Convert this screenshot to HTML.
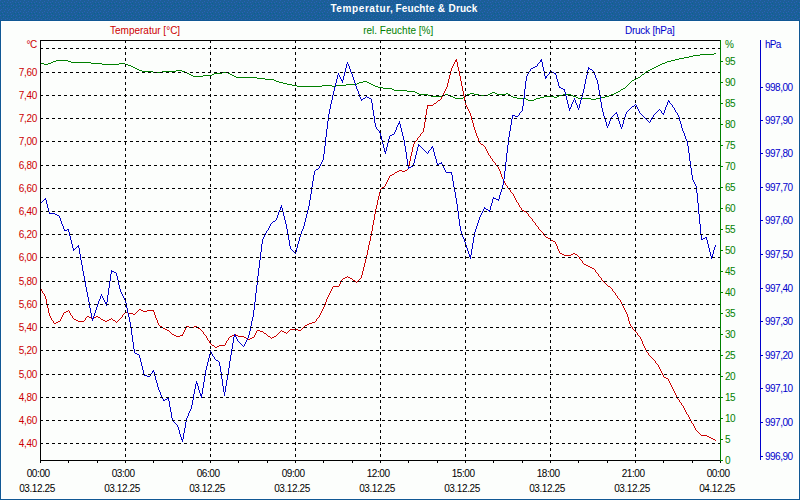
<!DOCTYPE html>
<html><head><meta charset="utf-8"><title>Temperatur, Feuchte &amp; Druck</title>
<style>
html,body{margin:0;padding:0;}
body{width:800px;height:500px;overflow:hidden;background:#105894;font-family:"Liberation Sans",sans-serif;position:relative;}
#hdr{position:absolute;left:0;top:0;width:800px;height:20px;background:#1c5f97;}
#title{z-index:2;position:absolute;left:0;top:0;width:800px;height:21px;color:#fff;font-weight:bold;font-size:10px;line-height:17px;white-space:nowrap;}
#title span{position:absolute;top:0;}
#panelw{position:absolute;left:1px;top:21px;width:798px;height:478px;background:#fff;}
#panel{position:absolute;left:2px;top:22px;width:796px;height:476px;background:#fcfefc;}
svg{position:absolute;left:0;top:0;}
.t{position:absolute;font-size:10px;line-height:13px;white-space:nowrap;}
.r{color:#cc0000;} .g{color:#008000;} .b{color:#0000cc;} .k{color:#000;}
.yl{width:37px;text-align:right;left:0;letter-spacing:-0.3px;}
.rl{letter-spacing:-0.5px;}
.xl{width:80px;text-align:center;letter-spacing:-0.4px;}
</style></head><body>
<div id="hdr"></div>
<div id="title"><span style="left:330.4px;letter-spacing:0.6px">Temperatur,</span><span style="left:395.6px;letter-spacing:0.1px">Feuchte</span><span style="left:437.8px">&amp;</span><span style="left:448.6px;letter-spacing:0.1px">Druck</span></div>
<div id="panelw"></div><div id="panel"></div>

<svg width="800" height="500" viewBox="0 0 800 500" shape-rendering="crispEdges" fill="none">
<defs><pattern id="dz" width="16" height="10" patternUnits="userSpaceOnUse"><path d="M0 0h1v1h-1zM8 0h1v1h-1zM4 1h1v1h-1zM12 1h1v1h-1zM2 2h1v1h-1zM7 2h1v1h-1zM10 2h1v1h-1zM15 2h1v1h-1zM3 4h1v1h-1zM11 4h1v1h-1zM0 5h1v1h-1zM5 5h1v1h-1zM8 5h1v1h-1zM13 5h1v1h-1zM3 7h1v1h-1zM11 7h1v1h-1zM7 8h1v1h-1zM15 8h1v1h-1zM1 9h1v1h-1zM5 9h1v1h-1zM9 9h1v1h-1zM13 9h1v1h-1z" fill="#2862b8"/><path d="M1 3h1v1h-1zM4 3h1v1h-1zM12 5h1v1h-1zM2 6h1v1h-1zM6 6h1v1h-1zM9 6h1v1h-1zM11 8h1v1h-1zM14 3h1v1h-1zM14 7h1v1h-1z" fill="#066494"/></pattern></defs><rect x="0" y="0" width="800" height="20" fill="url(#dz)"/>
<path d="M714 53h2v1h-2zM700 54h14v1h-14zM693 55h7v1h-7zM689 56h4v1h-4zM684 57h5v1h-5zM679 58h5v1h-5zM675 59h4v1h-4zM56 60h12v1h-12zM671 60h4v1h-4zM53 61h3v1h-3zM68 61h3v1h-3zM667 61h4v1h-4zM51 62h2v1h-2zM71 62h20v1h-20zM665 62h2v1h-2zM41 63h3v1h-3zM48 63h3v1h-3zM91 63h11v1h-11zM119 63h6v1h-6zM662 63h3v1h-3zM44 64h4v1h-4zM102 64h17v1h-17zM125 64h3v1h-3zM660 64h2v1h-2zM128 65h3v1h-3zM658 65h2v1h-2zM131 66h2v1h-2zM656 66h2v1h-2zM133 67h2v1h-2zM654 67h2v1h-2zM135 68h2v1h-2zM652 68h2v1h-2zM137 69h2v1h-2zM650 69h2v1h-2zM139 70h3v1h-3zM176 70h6v1h-6zM648 70h2v1h-2zM142 71h11v1h-11zM162 71h14v1h-14zM182 71h3v1h-3zM646 71h2v1h-2zM153 72h9v1h-9zM185 72h2v1h-2zM222 72h6v1h-6zM645 72h1v1h-1zM187 73h2v1h-2zM214 73h8v1h-8zM228 73h2v1h-2zM644 73h1v1h-1zM189 74h2v1h-2zM212 74h2v1h-2zM230 74h2v1h-2zM642 74h2v1h-2zM191 75h2v1h-2zM203 75h9v1h-9zM232 75h2v1h-2zM641 75h1v1h-1zM193 76h10v1h-10zM234 76h2v1h-2zM640 76h1v1h-1zM236 77h21v1h-21zM638 77h2v1h-2zM257 78h8v1h-8zM636 78h2v1h-2zM265 79h9v1h-9zM634 79h2v1h-2zM274 80h2v1h-2zM632 80h2v1h-2zM276 81h3v1h-3zM363 81h4v1h-4zM631 81h1v1h-1zM279 82h4v1h-4zM359 82h4v1h-4zM367 82h2v1h-2zM630 82h1v1h-1zM283 83h4v1h-4zM357 83h2v1h-2zM369 83h2v1h-2zM629 83h1v1h-1zM287 84h5v1h-5zM346 84h11v1h-11zM371 84h2v1h-2zM628 84h1v1h-1zM292 85h5v1h-5zM322 85h10v1h-10zM335 85h11v1h-11zM373 85h2v1h-2zM627 85h1v1h-1zM297 86h25v1h-25zM332 86h3v1h-3zM375 86h3v1h-3zM626 86h1v1h-1zM378 87h5v1h-5zM625 87h1v1h-1zM383 88h9v1h-9zM623 88h2v1h-2zM392 89h2v1h-2zM621 89h2v1h-2zM394 90h13v1h-13zM620 90h1v1h-1zM407 91h8v1h-8zM618 91h2v1h-2zM415 92h2v1h-2zM492 92h3v1h-3zM616 92h2v1h-2zM417 93h2v1h-2zM470 93h4v1h-4zM490 93h2v1h-2zM495 93h2v1h-2zM506 93h2v1h-2zM614 93h2v1h-2zM419 94h9v1h-9zM445 94h3v1h-3zM467 94h3v1h-3zM474 94h5v1h-5zM488 94h2v1h-2zM497 94h9v1h-9zM508 94h2v1h-2zM563 94h8v1h-8zM611 94h3v1h-3zM428 95h3v1h-3zM443 95h2v1h-2zM448 95h2v1h-2zM466 95h1v1h-1zM479 95h9v1h-9zM510 95h1v1h-1zM559 95h4v1h-4zM571 95h2v1h-2zM609 95h2v1h-2zM431 96h12v1h-12zM450 96h3v1h-3zM465 96h1v1h-1zM511 96h2v1h-2zM544 96h10v1h-10zM557 96h2v1h-2zM573 96h3v1h-3zM605 96h4v1h-4zM453 97h2v1h-2zM463 97h2v1h-2zM513 97h4v1h-4zM540 97h4v1h-4zM554 97h3v1h-3zM576 97h2v1h-2zM601 97h4v1h-4zM455 98h8v1h-8zM517 98h9v1h-9zM536 98h4v1h-4zM578 98h13v1h-13zM596 98h5v1h-5zM526 99h2v1h-2zM534 99h2v1h-2zM591 99h5v1h-5zM528 100h6v1h-6z" fill="#008000"/>
<path d="M41 289h1v2h-1zM42 291h1v2h-1zM44 294h1v2h-1zM45 296h1v3h-1zM46 299h1v5h-1zM47 304h1v4h-1zM48 308h1v5h-1zM49 313h1v3h-1zM50 316h1v2h-1zM51 318h1v2h-1zM53 321h1v2h-1zM60 319h1v2h-1zM61 317h1v2h-1zM62 315h1v2h-1zM63 313h1v2h-1zM69 311h1v2h-1zM70 313h1v2h-1zM72 316h1v2h-1zM85 318h1v2h-1zM122 315h1v2h-1zM153 310h1v2h-1zM154 312h1v3h-1zM155 315h1v3h-1zM156 318h1v2h-1zM157 320h1v3h-1zM158 323h1v2h-1zM182 334h1v2h-1zM183 332h1v2h-1zM184 330h1v2h-1zM185 328h1v2h-1zM186 326h1v2h-1zM203 332h1v2h-1zM206 336h1v2h-1zM207 338h1v2h-1zM209 341h1v2h-1zM225 343h1v2h-1zM226 341h1v2h-1zM228 338h1v2h-1zM254 335h1v2h-1zM255 333h1v2h-1zM256 331h1v2h-1zM316 319h1v2h-1zM319 315h1v2h-1zM320 313h1v2h-1zM321 311h1v2h-1zM322 309h1v2h-1zM323 307h1v2h-1zM324 305h1v2h-1zM325 302h1v3h-1zM326 299h1v3h-1zM327 297h1v2h-1zM328 295h1v2h-1zM329 293h1v2h-1zM330 291h1v2h-1zM331 289h1v2h-1zM332 287h1v2h-1zM339 284h1v2h-1zM340 282h1v2h-1zM341 280h1v2h-1zM361 275h1v3h-1zM362 271h1v4h-1zM363 267h1v4h-1zM364 263h1v4h-1zM365 259h1v4h-1zM366 255h1v4h-1zM367 250h1v5h-1zM368 245h1v5h-1zM369 241h1v4h-1zM370 236h1v5h-1zM371 231h1v5h-1zM372 225h1v6h-1zM373 220h1v5h-1zM374 214h1v6h-1zM375 209h1v5h-1zM376 205h1v4h-1zM377 200h1v5h-1zM378 196h1v4h-1zM379 192h1v4h-1zM380 189h1v3h-1zM385 184h1v2h-1zM386 182h1v2h-1zM387 180h1v2h-1zM388 178h1v2h-1zM389 176h1v2h-1zM408 166h1v3h-1zM409 161h1v5h-1zM410 156h1v5h-1zM411 152h1v4h-1zM412 147h1v5h-1zM413 144h1v3h-1zM414 142h1v2h-1zM417 138h1v2h-1zM420 134h1v2h-1zM423 128h1v4h-1zM424 122h1v6h-1zM425 115h1v7h-1zM426 109h1v6h-1zM427 105h1v4h-1zM441 97h1v2h-1zM442 95h1v2h-1zM443 93h1v2h-1zM444 91h1v2h-1zM445 89h1v2h-1zM446 87h1v2h-1zM447 83h1v4h-1zM448 79h1v4h-1zM449 75h1v4h-1zM450 71h1v4h-1zM451 68h1v3h-1zM452 66h1v2h-1zM453 64h1v2h-1zM454 62h1v2h-1zM455 60h1v2h-1zM456 59h1v3h-1zM457 62h1v5h-1zM458 67h1v4h-1zM459 71h1v5h-1zM460 76h1v5h-1zM461 81h1v5h-1zM462 86h1v5h-1zM463 91h1v5h-1zM464 96h1v5h-1zM465 101h1v4h-1zM466 105h1v2h-1zM467 107h1v2h-1zM468 109h1v2h-1zM469 111h1v2h-1zM470 113h1v3h-1zM471 116h1v4h-1zM472 120h1v3h-1zM473 123h1v4h-1zM474 127h1v3h-1zM475 130h1v3h-1zM476 133h1v3h-1zM477 136h1v2h-1zM478 138h1v3h-1zM479 141h1v2h-1zM485 147h1v2h-1zM486 149h1v2h-1zM487 151h1v2h-1zM488 153h1v2h-1zM490 156h1v2h-1zM492 159h1v2h-1zM495 163h1v2h-1zM498 167h1v2h-1zM499 169h1v2h-1zM500 171h1v3h-1zM501 174h1v3h-1zM502 177h1v2h-1zM503 179h1v2h-1zM504 181h1v2h-1zM505 183h1v2h-1zM507 186h1v2h-1zM510 190h1v2h-1zM513 194h1v2h-1zM514 196h1v2h-1zM515 198h1v2h-1zM516 200h1v2h-1zM518 203h1v2h-1zM519 205h1v2h-1zM521 208h1v2h-1zM528 214h1v2h-1zM532 219h1v2h-1zM535 223h1v2h-1zM538 227h1v2h-1zM543 233h1v2h-1zM555 242h1v2h-1zM556 244h1v2h-1zM557 246h1v3h-1zM558 249h1v2h-1zM559 251h1v2h-1zM579 257h1v2h-1zM582 261h1v2h-1zM595 270h1v2h-1zM598 274h1v2h-1zM601 278h1v2h-1zM612 289h1v2h-1zM615 293h1v2h-1zM617 296h1v2h-1zM620 300h1v2h-1zM621 302h1v2h-1zM622 304h1v2h-1zM623 306h1v2h-1zM624 308h1v2h-1zM625 310h1v2h-1zM626 312h1v2h-1zM627 314h1v3h-1zM628 317h1v4h-1zM629 321h1v3h-1zM630 324h1v2h-1zM632 327h1v2h-1zM637 333h1v2h-1zM640 337h1v2h-1zM641 339h1v2h-1zM642 341h1v3h-1zM643 344h1v2h-1zM644 346h1v2h-1zM645 348h1v2h-1zM646 350h1v2h-1zM648 353h1v2h-1zM655 361h1v2h-1zM658 365h1v2h-1zM659 367h1v2h-1zM660 369h1v2h-1zM661 371h1v2h-1zM662 373h1v2h-1zM663 375h1v2h-1zM668 379h1v2h-1zM669 381h1v2h-1zM670 383h1v2h-1zM671 385h1v2h-1zM672 387h1v2h-1zM673 389h1v2h-1zM674 391h1v2h-1zM675 393h1v2h-1zM676 395h1v2h-1zM677 397h1v2h-1zM679 400h1v2h-1zM681 403h1v2h-1zM683 406h1v2h-1zM684 408h1v2h-1zM685 410h1v2h-1zM686 412h1v2h-1zM688 415h1v2h-1zM689 417h1v2h-1zM690 419h1v2h-1zM691 421h1v2h-1zM693 424h1v2h-1zM694 426h1v2h-1zM695 428h1v2h-1zM440 99h1v1h-1zM438 100h2v1h-2zM437 101h1v1h-1zM436 102h1v1h-1zM434 103h2v1h-2zM433 104h1v1h-1zM428 105h5v1h-5zM422 132h1v1h-1zM421 133h1v1h-1zM419 136h1v1h-1zM418 137h1v1h-1zM416 140h1v1h-1zM415 141h1v1h-1zM480 143h1v1h-1zM481 144h2v1h-2zM483 145h1v1h-1zM484 146h1v1h-1zM489 155h1v1h-1zM491 158h1v1h-1zM493 161h1v1h-1zM494 162h1v1h-1zM496 165h1v1h-1zM497 166h1v1h-1zM407 169h1v1h-1zM399 170h3v1h-3zM405 170h2v1h-2zM397 171h2v1h-2zM402 171h3v1h-3zM395 172h2v1h-2zM394 173h1v1h-1zM392 174h2v1h-2zM390 175h2v1h-2zM506 185h1v1h-1zM384 186h1v1h-1zM382 187h2v1h-2zM381 188h1v1h-1zM508 188h1v1h-1zM509 189h1v1h-1zM511 192h1v1h-1zM512 193h1v1h-1zM517 202h1v1h-1zM520 207h1v1h-1zM522 210h2v1h-2zM524 211h2v1h-2zM526 212h1v1h-1zM527 213h1v1h-1zM529 216h1v1h-1zM530 217h1v1h-1zM531 218h1v1h-1zM533 221h1v1h-1zM534 222h1v1h-1zM536 225h1v1h-1zM537 226h1v1h-1zM539 229h1v1h-1zM540 230h1v1h-1zM541 231h1v1h-1zM542 232h1v1h-1zM544 235h1v1h-1zM545 236h1v1h-1zM546 237h2v1h-2zM548 238h2v1h-2zM550 239h1v1h-1zM551 240h2v1h-2zM553 241h2v1h-2zM560 253h2v1h-2zM573 253h2v1h-2zM562 254h2v1h-2zM571 254h2v1h-2zM575 254h2v1h-2zM564 255h7v1h-7zM577 255h1v1h-1zM578 256h1v1h-1zM580 259h1v1h-1zM581 260h1v1h-1zM583 263h1v1h-1zM584 264h2v1h-2zM586 265h2v1h-2zM588 266h2v1h-2zM590 267h2v1h-2zM592 268h2v1h-2zM594 269h1v1h-1zM596 272h1v1h-1zM597 273h1v1h-1zM347 276h1v1h-1zM599 276h1v1h-1zM345 277h2v1h-2zM348 277h2v1h-2zM600 277h1v1h-1zM343 278h2v1h-2zM350 278h2v1h-2zM360 278h1v1h-1zM342 279h1v1h-1zM352 279h1v1h-1zM359 279h1v1h-1zM353 280h2v1h-2zM358 280h1v1h-1zM602 280h1v1h-1zM355 281h1v1h-1zM357 281h1v1h-1zM603 281h1v1h-1zM356 282h1v1h-1zM604 282h1v1h-1zM605 283h1v1h-1zM606 284h1v1h-1zM607 285h1v1h-1zM333 286h6v1h-6zM608 286h2v1h-2zM610 287h1v1h-1zM40 288h1v1h-1zM611 288h1v1h-1zM613 291h1v1h-1zM614 292h1v1h-1zM43 293h1v1h-1zM616 295h1v1h-1zM618 298h1v1h-1zM619 299h1v1h-1zM139 309h2v1h-2zM68 310h1v1h-1zM138 310h1v1h-1zM141 310h2v1h-2zM147 310h6v1h-6zM66 311h2v1h-2zM137 311h1v1h-1zM143 311h4v1h-4zM64 312h2v1h-2zM125 312h3v1h-3zM136 312h1v1h-1zM124 313h1v1h-1zM128 313h5v1h-5zM135 313h1v1h-1zM123 314h1v1h-1zM133 314h2v1h-2zM71 315h1v1h-1zM87 316h2v1h-2zM96 316h2v1h-2zM86 317h1v1h-1zM89 317h2v1h-2zM94 317h2v1h-2zM98 317h2v1h-2zM121 317h1v1h-1zM318 317h1v1h-1zM73 318h1v1h-1zM91 318h3v1h-3zM100 318h1v1h-1zM111 318h1v1h-1zM120 318h1v1h-1zM317 318h1v1h-1zM74 319h2v1h-2zM101 319h2v1h-2zM109 319h2v1h-2zM112 319h1v1h-1zM119 319h1v1h-1zM52 320h1v1h-1zM76 320h2v1h-2zM84 320h1v1h-1zM103 320h2v1h-2zM107 320h2v1h-2zM113 320h2v1h-2zM118 320h1v1h-1zM58 321h2v1h-2zM78 321h6v1h-6zM105 321h2v1h-2zM115 321h1v1h-1zM117 321h1v1h-1zM315 321h1v1h-1zM56 322h2v1h-2zM116 322h1v1h-1zM312 322h3v1h-3zM54 323h2v1h-2zM309 323h3v1h-3zM307 324h2v1h-2zM159 325h1v1h-1zM305 325h2v1h-2zM160 326h2v1h-2zM187 326h2v1h-2zM194 326h3v1h-3zM304 326h1v1h-1zM631 326h1v1h-1zM162 327h1v1h-1zM189 327h5v1h-5zM197 327h1v1h-1zM303 327h1v1h-1zM163 328h2v1h-2zM198 328h2v1h-2zM302 328h1v1h-1zM165 329h2v1h-2zM200 329h1v1h-1zM290 329h8v1h-8zM301 329h1v1h-1zM633 329h1v1h-1zM167 330h2v1h-2zM201 330h1v1h-1zM257 330h3v1h-3zM281 330h1v1h-1zM289 330h1v1h-1zM298 330h3v1h-3zM634 330h1v1h-1zM169 331h1v1h-1zM202 331h1v1h-1zM260 331h3v1h-3zM280 331h1v1h-1zM282 331h2v1h-2zM288 331h1v1h-1zM635 331h1v1h-1zM170 332h1v1h-1zM263 332h1v1h-1zM279 332h1v1h-1zM284 332h2v1h-2zM287 332h1v1h-1zM636 332h1v1h-1zM171 333h1v1h-1zM264 333h2v1h-2zM278 333h1v1h-1zM286 333h1v1h-1zM172 334h2v1h-2zM204 334h1v1h-1zM234 334h2v1h-2zM266 334h1v1h-1zM277 334h1v1h-1zM174 335h2v1h-2zM180 335h2v1h-2zM205 335h1v1h-1zM232 335h2v1h-2zM236 335h2v1h-2zM267 335h1v1h-1zM276 335h1v1h-1zM638 335h1v1h-1zM176 336h4v1h-4zM230 336h2v1h-2zM238 336h6v1h-6zM268 336h2v1h-2zM274 336h2v1h-2zM639 336h1v1h-1zM229 337h1v1h-1zM244 337h2v1h-2zM252 337h2v1h-2zM270 337h1v1h-1zM272 337h2v1h-2zM246 338h2v1h-2zM250 338h2v1h-2zM271 338h1v1h-1zM248 339h2v1h-2zM208 340h1v1h-1zM227 340h1v1h-1zM210 343h1v1h-1zM211 344h1v1h-1zM212 345h2v1h-2zM219 345h6v1h-6zM214 346h1v1h-1zM217 346h2v1h-2zM215 347h2v1h-2zM647 352h1v1h-1zM649 355h1v1h-1zM650 356h1v1h-1zM651 357h1v1h-1zM652 358h1v1h-1zM653 359h1v1h-1zM654 360h1v1h-1zM656 363h1v1h-1zM657 364h1v1h-1zM664 377h2v1h-2zM666 378h2v1h-2zM678 399h1v1h-1zM680 402h1v1h-1zM682 405h1v1h-1zM687 414h1v1h-1zM692 423h1v1h-1zM696 430h1v1h-1zM697 431h1v1h-1zM698 432h1v1h-1zM699 433h1v1h-1zM700 434h1v1h-1zM701 435h6v1h-6zM707 436h2v1h-2zM709 437h2v1h-2zM711 438h2v1h-2zM713 439h2v1h-2zM715 440h1v1h-1z" fill="#cc0000"/>
<path d="M45 198h1v2h-1zM46 200h1v4h-1zM47 204h1v4h-1zM48 208h1v4h-1zM49 212h1v2h-1zM59 216h1v2h-1zM60 218h1v3h-1zM61 221h1v3h-1zM62 224h1v2h-1zM63 226h1v3h-1zM64 229h1v2h-1zM68 229h1v3h-1zM69 232h1v4h-1zM70 236h1v4h-1zM71 240h1v4h-1zM72 244h1v4h-1zM73 248h1v3h-1zM78 245h1v3h-1zM79 248h1v6h-1zM80 254h1v6h-1zM81 260h1v5h-1zM82 265h1v6h-1zM83 271h1v5h-1zM84 276h1v5h-1zM85 281h1v6h-1zM86 287h1v5h-1zM87 292h1v5h-1zM88 297h1v5h-1zM89 302h1v6h-1zM90 308h1v5h-1zM91 313h1v5h-1zM92 318h1v3h-1zM93 316h1v3h-1zM94 313h1v3h-1zM95 310h1v3h-1zM96 307h1v3h-1zM97 304h1v3h-1zM98 301h1v3h-1zM99 299h1v2h-1zM100 296h1v3h-1zM101 294h1v2h-1zM102 296h1v2h-1zM103 298h1v2h-1zM104 300h1v2h-1zM105 302h1v2h-1zM106 302h1v4h-1zM107 295h1v7h-1zM108 288h1v7h-1zM109 281h1v7h-1zM110 274h1v7h-1zM111 270h1v4h-1zM116 273h1v3h-1zM117 276h1v4h-1zM118 280h1v5h-1zM119 285h1v4h-1zM120 289h1v3h-1zM121 292h1v2h-1zM122 294h1v2h-1zM123 296h1v2h-1zM124 298h1v2h-1zM125 300h1v3h-1zM126 303h1v5h-1zM127 308h1v5h-1zM128 313h1v4h-1zM129 317h1v5h-1zM130 322h1v6h-1zM131 328h1v7h-1zM132 335h1v7h-1zM133 342h1v7h-1zM134 349h1v4h-1zM139 355h1v3h-1zM140 358h1v4h-1zM141 362h1v4h-1zM142 366h1v4h-1zM143 370h1v4h-1zM144 374h1v2h-1zM150 374h1v2h-1zM152 371h1v2h-1zM153 370h1v2h-1zM154 372h1v4h-1zM155 376h1v4h-1zM156 380h1v3h-1zM157 383h1v4h-1zM158 387h1v3h-1zM159 390h1v2h-1zM160 392h1v3h-1zM161 395h1v2h-1zM162 397h1v2h-1zM163 399h1v2h-1zM168 398h1v3h-1zM169 401h1v6h-1zM170 407h1v5h-1zM171 412h1v6h-1zM172 418h1v3h-1zM177 425h1v2h-1zM178 427h1v3h-1zM179 430h1v4h-1zM180 434h1v3h-1zM181 437h1v3h-1zM182 439h1v3h-1zM183 433h1v6h-1zM184 428h1v5h-1zM185 422h1v6h-1zM186 418h1v4h-1zM187 416h1v2h-1zM188 413h1v3h-1zM189 411h1v2h-1zM190 409h1v2h-1zM191 405h1v4h-1zM192 400h1v5h-1zM193 394h1v6h-1zM194 389h1v5h-1zM195 384h1v5h-1zM196 381h1v3h-1zM197 383h1v3h-1zM198 386h1v4h-1zM199 390h1v3h-1zM200 393h1v3h-1zM201 394h1v4h-1zM202 388h1v6h-1zM203 382h1v6h-1zM204 376h1v6h-1zM205 370h1v6h-1zM206 366h1v4h-1zM207 362h1v4h-1zM208 358h1v4h-1zM209 354h1v4h-1zM210 351h1v3h-1zM211 352h1v2h-1zM212 354h1v2h-1zM214 357h1v2h-1zM219 362h1v4h-1zM220 366h1v6h-1zM221 372h1v7h-1zM222 379h1v7h-1zM223 386h1v6h-1zM224 392h1v4h-1zM225 386h1v6h-1zM226 380h1v6h-1zM227 374h1v6h-1zM228 368h1v6h-1zM229 361h1v7h-1zM230 355h1v6h-1zM231 349h1v6h-1zM232 343h1v6h-1zM233 337h1v6h-1zM234 334h1v3h-1zM235 335h1v2h-1zM236 337h1v2h-1zM237 339h1v2h-1zM244 344h1v2h-1zM245 342h1v2h-1zM246 340h1v2h-1zM247 338h1v2h-1zM248 335h1v3h-1zM249 331h1v4h-1zM250 326h1v5h-1zM251 321h1v5h-1zM252 317h1v4h-1zM253 310h1v7h-1zM254 302h1v8h-1zM255 293h1v9h-1zM256 285h1v8h-1zM257 276h1v9h-1zM258 268h1v8h-1zM259 260h1v8h-1zM260 252h1v8h-1zM261 244h1v8h-1zM262 239h1v5h-1zM263 237h1v2h-1zM264 235h1v2h-1zM265 233h1v2h-1zM266 231h1v2h-1zM268 228h1v2h-1zM269 226h1v2h-1zM270 224h1v2h-1zM276 218h1v2h-1zM277 215h1v3h-1zM278 212h1v3h-1zM279 210h1v2h-1zM280 207h1v3h-1zM281 205h1v3h-1zM282 208h1v4h-1zM283 212h1v4h-1zM284 216h1v4h-1zM285 220h1v4h-1zM286 224h1v5h-1zM287 229h1v6h-1zM288 235h1v5h-1zM289 240h1v6h-1zM290 246h1v3h-1zM295 252h1v2h-1zM296 248h1v4h-1zM297 244h1v4h-1zM298 241h1v3h-1zM299 237h1v4h-1zM300 234h1v3h-1zM301 231h1v3h-1zM302 229h1v2h-1zM303 226h1v3h-1zM304 222h1v4h-1zM305 218h1v4h-1zM306 214h1v4h-1zM307 210h1v4h-1zM308 206h1v4h-1zM309 200h1v6h-1zM310 194h1v6h-1zM311 187h1v7h-1zM312 181h1v6h-1zM313 175h1v6h-1zM314 171h1v4h-1zM319 166h1v2h-1zM320 164h1v2h-1zM321 162h1v2h-1zM322 160h1v2h-1zM323 154h1v6h-1zM324 146h1v8h-1zM325 137h1v9h-1zM326 129h1v8h-1zM327 121h1v8h-1zM328 114h1v7h-1zM329 109h1v5h-1zM330 104h1v5h-1zM331 100h1v4h-1zM332 95h1v5h-1zM333 91h1v4h-1zM334 87h1v4h-1zM335 83h1v4h-1zM336 79h1v4h-1zM337 75h1v4h-1zM338 73h1v2h-1zM339 75h1v2h-1zM340 77h1v2h-1zM341 79h1v2h-1zM342 80h1v3h-1zM343 76h1v4h-1zM344 72h1v4h-1zM345 68h1v4h-1zM346 64h1v4h-1zM347 62h1v2h-1zM348 64h1v2h-1zM349 66h1v3h-1zM350 69h1v3h-1zM351 72h1v2h-1zM352 74h1v3h-1zM353 77h1v3h-1zM354 80h1v3h-1zM355 83h1v3h-1zM356 86h1v3h-1zM357 89h1v2h-1zM358 91h1v3h-1zM359 94h1v3h-1zM360 97h1v2h-1zM361 99h1v2h-1zM371 99h1v4h-1zM372 103h1v7h-1zM373 110h1v6h-1zM374 116h1v7h-1zM375 123h1v4h-1zM376 127h1v2h-1zM379 131h1v2h-1zM380 133h1v3h-1zM381 136h1v4h-1zM382 140h1v4h-1zM383 144h1v4h-1zM384 148h1v4h-1zM385 151h1v3h-1zM386 147h1v4h-1zM387 143h1v4h-1zM388 139h1v4h-1zM389 136h1v3h-1zM394 132h1v2h-1zM395 130h1v2h-1zM396 127h1v3h-1zM397 125h1v2h-1zM398 123h1v2h-1zM399 121h1v3h-1zM400 124h1v4h-1zM401 128h1v4h-1zM402 132h1v4h-1zM403 136h1v4h-1zM404 140h1v6h-1zM405 146h1v6h-1zM406 152h1v7h-1zM407 159h1v6h-1zM408 165h1v4h-1zM413 163h1v3h-1zM414 159h1v4h-1zM415 155h1v4h-1zM416 151h1v4h-1zM417 147h1v4h-1zM418 144h1v3h-1zM428 151h1v2h-1zM431 147h1v2h-1zM432 146h1v2h-1zM433 148h1v4h-1zM434 152h1v4h-1zM435 156h1v3h-1zM436 159h1v4h-1zM437 163h1v2h-1zM441 162h1v2h-1zM442 164h1v2h-1zM443 166h1v2h-1zM444 168h1v2h-1zM445 170h1v2h-1zM451 172h1v3h-1zM452 175h1v6h-1zM453 181h1v6h-1zM454 187h1v5h-1zM455 192h1v6h-1zM456 198h1v6h-1zM457 204h1v7h-1zM458 211h1v8h-1zM459 219h1v7h-1zM460 226h1v5h-1zM461 231h1v3h-1zM462 234h1v3h-1zM463 237h1v2h-1zM464 239h1v3h-1zM465 242h1v3h-1zM466 245h1v3h-1zM467 248h1v3h-1zM468 251h1v3h-1zM469 254h1v3h-1zM470 255h1v4h-1zM471 249h1v6h-1zM472 243h1v6h-1zM473 237h1v6h-1zM474 232h1v5h-1zM475 229h1v3h-1zM476 226h1v3h-1zM477 223h1v3h-1zM478 220h1v3h-1zM479 217h1v3h-1zM480 215h1v2h-1zM481 213h1v2h-1zM482 211h1v2h-1zM483 209h1v2h-1zM484 207h1v2h-1zM489 210h1v2h-1zM490 206h1v4h-1zM491 203h1v3h-1zM492 199h1v4h-1zM493 197h1v2h-1zM498 199h1v2h-1zM499 195h1v4h-1zM500 192h1v3h-1zM501 189h1v3h-1zM502 185h1v4h-1zM503 179h1v6h-1zM504 171h1v8h-1zM505 162h1v9h-1zM506 153h1v9h-1zM507 145h1v8h-1zM508 137h1v8h-1zM509 131h1v6h-1zM510 125h1v6h-1zM511 119h1v6h-1zM512 115h1v4h-1zM519 113h1v2h-1zM522 106h1v5h-1zM523 98h1v8h-1zM524 89h1v9h-1zM525 81h1v8h-1zM526 76h1v5h-1zM527 74h1v2h-1zM528 72h1v2h-1zM530 69h1v2h-1zM537 64h1v2h-1zM540 60h1v2h-1zM541 59h1v3h-1zM542 62h1v5h-1zM543 67h1v4h-1zM544 71h1v5h-1zM545 76h1v3h-1zM546 76h1v2h-1zM549 72h1v2h-1zM555 73h1v2h-1zM556 75h1v4h-1zM557 79h1v3h-1zM558 82h1v4h-1zM559 86h1v2h-1zM564 89h1v3h-1zM565 92h1v4h-1zM566 96h1v4h-1zM567 100h1v4h-1zM568 104h1v4h-1zM569 108h1v3h-1zM570 107h1v2h-1zM571 104h1v3h-1zM572 102h1v2h-1zM573 100h1v2h-1zM574 98h1v2h-1zM575 100h1v3h-1zM576 103h1v2h-1zM577 105h1v3h-1zM578 108h1v2h-1zM579 104h1v4h-1zM580 100h1v4h-1zM581 97h1v3h-1zM582 93h1v4h-1zM583 89h1v4h-1zM584 84h1v5h-1zM585 79h1v5h-1zM586 75h1v4h-1zM587 70h1v5h-1zM588 67h1v3h-1zM593 71h1v2h-1zM594 73h1v2h-1zM595 75h1v3h-1zM596 78h1v2h-1zM597 80h1v4h-1zM598 84h1v6h-1zM599 90h1v6h-1zM600 96h1v6h-1zM601 102h1v6h-1zM602 108h1v4h-1zM603 112h1v4h-1zM604 116h1v3h-1zM605 119h1v3h-1zM606 122h1v4h-1zM607 126h1v2h-1zM608 124h1v2h-1zM609 121h1v3h-1zM610 119h1v2h-1zM611 117h1v2h-1zM616 112h1v2h-1zM617 114h1v3h-1zM618 117h1v4h-1zM619 121h1v3h-1zM620 124h1v3h-1zM621 127h1v2h-1zM622 124h1v3h-1zM623 120h1v4h-1zM624 117h1v3h-1zM625 114h1v3h-1zM626 112h1v2h-1zM636 105h1v2h-1zM637 107h1v2h-1zM638 109h1v2h-1zM639 111h1v2h-1zM650 120h1v2h-1zM651 118h1v2h-1zM653 115h1v2h-1zM661 111h1v2h-1zM663 113h1v2h-1zM664 110h1v3h-1zM665 107h1v3h-1zM666 105h1v2h-1zM667 102h1v3h-1zM668 100h1v2h-1zM669 101h1v2h-1zM672 105h1v2h-1zM674 108h1v2h-1zM675 110h1v2h-1zM677 113h1v2h-1zM678 115h1v2h-1zM679 117h1v4h-1zM680 121h1v3h-1zM681 124h1v4h-1zM682 128h1v3h-1zM683 131h1v2h-1zM684 133h1v3h-1zM685 136h1v3h-1zM686 139h1v2h-1zM687 141h1v5h-1zM688 146h1v7h-1zM689 153h1v8h-1zM690 161h1v7h-1zM691 168h1v7h-1zM692 175h1v5h-1zM693 180h1v2h-1zM694 182h1v2h-1zM695 184h1v2h-1zM696 186h1v7h-1zM697 193h1v10h-1zM698 203h1v11h-1zM699 214h1v10h-1zM700 224h1v10h-1zM701 234h1v6h-1zM706 237h1v3h-1zM707 240h1v4h-1zM708 244h1v4h-1zM709 248h1v4h-1zM710 252h1v4h-1zM711 256h1v3h-1zM712 254h1v3h-1zM713 250h1v4h-1zM714 247h1v3h-1zM715 245h1v2h-1zM539 62h1v1h-1zM538 63h1v1h-1zM535 66h2v1h-2zM533 67h2v1h-2zM531 68h2v1h-2zM589 68h1v1h-1zM590 69h2v1h-2zM592 70h1v1h-1zM529 71h1v1h-1zM550 71h2v1h-2zM552 72h2v1h-2zM554 73h1v1h-1zM548 74h1v1h-1zM547 75h1v1h-1zM560 87h1v1h-1zM561 88h2v1h-2zM563 89h1v1h-1zM366 96h1v1h-1zM365 97h1v1h-1zM367 97h2v1h-2zM363 98h2v1h-2zM369 98h2v1h-2zM362 99h1v1h-1zM670 103h1v1h-1zM635 104h1v1h-1zM671 104h1v1h-1zM634 105h1v1h-1zM632 106h2v1h-2zM631 107h1v1h-1zM673 107h1v1h-1zM630 108h1v1h-1zM629 109h1v1h-1zM659 109h1v1h-1zM628 110h1v1h-1zM658 110h1v1h-1zM660 110h1v1h-1zM521 111h1v1h-1zM627 111h1v1h-1zM657 111h1v1h-1zM520 112h1v1h-1zM656 112h1v1h-1zM676 112h1v1h-1zM615 113h1v1h-1zM640 113h1v1h-1zM655 113h1v1h-1zM662 113h1v1h-1zM614 114h1v1h-1zM641 114h1v1h-1zM654 114h1v1h-1zM513 115h2v1h-2zM518 115h1v1h-1zM613 115h1v1h-1zM642 115h1v1h-1zM515 116h3v1h-3zM612 116h1v1h-1zM643 116h1v1h-1zM644 117h1v1h-1zM652 117h1v1h-1zM645 118h1v1h-1zM646 119h1v1h-1zM647 120h1v1h-1zM648 121h1v1h-1zM649 122h1v1h-1zM377 129h1v1h-1zM378 130h1v1h-1zM392 134h2v1h-2zM390 135h2v1h-2zM419 145h1v1h-1zM420 146h1v1h-1zM421 147h1v1h-1zM422 148h1v1h-1zM423 149h1v1h-1zM430 149h1v1h-1zM424 150h1v1h-1zM429 150h1v1h-1zM425 151h1v1h-1zM426 152h1v1h-1zM427 153h1v1h-1zM439 163h2v1h-2zM438 164h1v1h-1zM411 166h2v1h-2zM409 167h2v1h-2zM318 168h1v1h-1zM316 169h2v1h-2zM315 170h1v1h-1zM446 172h5v1h-5zM494 198h2v1h-2zM44 199h1v1h-1zM496 199h2v1h-2zM43 200h1v1h-1zM42 201h1v1h-1zM41 202h1v1h-1zM40 203h1v1h-1zM485 208h1v1h-1zM486 209h2v1h-2zM488 210h1v1h-1zM50 213h5v1h-5zM55 214h2v1h-2zM57 215h2v1h-2zM275 220h1v1h-1zM273 221h2v1h-2zM272 222h1v1h-1zM271 223h1v1h-1zM67 229h1v1h-1zM65 230h2v1h-2zM267 230h1v1h-1zM705 237h1v1h-1zM703 238h2v1h-2zM702 239h1v1h-1zM77 246h1v1h-1zM76 247h1v1h-1zM75 248h1v1h-1zM74 249h1v1h-1zM291 249h1v1h-1zM292 250h1v1h-1zM293 251h1v1h-1zM294 252h1v1h-1zM112 271h2v1h-2zM114 272h2v1h-2zM238 341h1v1h-1zM239 342h1v1h-1zM240 343h1v1h-1zM241 344h1v1h-1zM242 345h1v1h-1zM243 346h1v1h-1zM135 353h2v1h-2zM137 354h2v1h-2zM213 356h1v1h-1zM215 359h1v1h-1zM216 360h2v1h-2zM218 361h1v1h-1zM151 373h1v1h-1zM145 375h2v1h-2zM147 376h3v1h-3zM167 398h1v1h-1zM165 399h2v1h-2zM164 400h1v1h-1zM173 421h1v1h-1zM174 422h1v1h-1zM175 423h1v1h-1zM176 424h1v1h-1z" fill="#0000cc"/>
<line x1="40" y1="48.5" x2="720" y2="48.5" stroke="#000" stroke-dasharray="3 3"/>
<line x1="40" y1="72.5" x2="720" y2="72.5" stroke="#000" stroke-dasharray="3 3"/>
<line x1="40" y1="95.5" x2="720" y2="95.5" stroke="#000" stroke-dasharray="3 3"/>
<line x1="40" y1="118.5" x2="720" y2="118.5" stroke="#000" stroke-dasharray="3 3"/>
<line x1="40" y1="141.5" x2="720" y2="141.5" stroke="#000" stroke-dasharray="3 3"/>
<line x1="40" y1="165.5" x2="720" y2="165.5" stroke="#000" stroke-dasharray="3 3"/>
<line x1="40" y1="188.5" x2="720" y2="188.5" stroke="#000" stroke-dasharray="3 3"/>
<line x1="40" y1="211.5" x2="720" y2="211.5" stroke="#000" stroke-dasharray="3 3"/>
<line x1="40" y1="234.5" x2="720" y2="234.5" stroke="#000" stroke-dasharray="3 3"/>
<line x1="40" y1="257.5" x2="720" y2="257.5" stroke="#000" stroke-dasharray="3 3"/>
<line x1="40" y1="281.5" x2="720" y2="281.5" stroke="#000" stroke-dasharray="3 3"/>
<line x1="40" y1="304.5" x2="720" y2="304.5" stroke="#000" stroke-dasharray="3 3"/>
<line x1="40" y1="327.5" x2="720" y2="327.5" stroke="#000" stroke-dasharray="3 3"/>
<line x1="40" y1="350.5" x2="720" y2="350.5" stroke="#000" stroke-dasharray="3 3"/>
<line x1="40" y1="374.5" x2="720" y2="374.5" stroke="#000" stroke-dasharray="3 3"/>
<line x1="40" y1="397.5" x2="720" y2="397.5" stroke="#000" stroke-dasharray="3 3"/>
<line x1="40" y1="420.5" x2="720" y2="420.5" stroke="#000" stroke-dasharray="3 3"/>
<line x1="40" y1="443.5" x2="720" y2="443.5" stroke="#000" stroke-dasharray="3 3"/>
<line x1="125.5" y1="40" x2="125.5" y2="460" stroke="#000" stroke-dasharray="3 3"/>
<line x1="210.5" y1="40" x2="210.5" y2="460" stroke="#000" stroke-dasharray="3 3"/>
<line x1="295.5" y1="40" x2="295.5" y2="460" stroke="#000" stroke-dasharray="3 3"/>
<line x1="380.5" y1="40" x2="380.5" y2="460" stroke="#000" stroke-dasharray="3 3"/>
<line x1="465.5" y1="40" x2="465.5" y2="460" stroke="#000" stroke-dasharray="3 3"/>
<line x1="550.5" y1="40" x2="550.5" y2="460" stroke="#000" stroke-dasharray="3 3"/>
<line x1="635.5" y1="40" x2="635.5" y2="460" stroke="#000" stroke-dasharray="3 3"/>
<line x1="40.5" y1="40" x2="40.5" y2="463" stroke="#000"/>
<line x1="40" y1="40.5" x2="721" y2="40.5" stroke="#000"/>
<line x1="40" y1="460.5" x2="721" y2="460.5" stroke="#000"/>
<line x1="40.5" y1="460" x2="40.5" y2="463" stroke="#000"/>
<line x1="68.5" y1="460" x2="68.5" y2="463" stroke="#000"/>
<line x1="97.5" y1="460" x2="97.5" y2="463" stroke="#000"/>
<line x1="125.5" y1="460" x2="125.5" y2="463" stroke="#000"/>
<line x1="153.5" y1="460" x2="153.5" y2="463" stroke="#000"/>
<line x1="182.5" y1="460" x2="182.5" y2="463" stroke="#000"/>
<line x1="210.5" y1="460" x2="210.5" y2="463" stroke="#000"/>
<line x1="238.5" y1="460" x2="238.5" y2="463" stroke="#000"/>
<line x1="267.5" y1="460" x2="267.5" y2="463" stroke="#000"/>
<line x1="295.5" y1="460" x2="295.5" y2="463" stroke="#000"/>
<line x1="323.5" y1="460" x2="323.5" y2="463" stroke="#000"/>
<line x1="352.5" y1="460" x2="352.5" y2="463" stroke="#000"/>
<line x1="380.5" y1="460" x2="380.5" y2="463" stroke="#000"/>
<line x1="408.5" y1="460" x2="408.5" y2="463" stroke="#000"/>
<line x1="437.5" y1="460" x2="437.5" y2="463" stroke="#000"/>
<line x1="465.5" y1="460" x2="465.5" y2="463" stroke="#000"/>
<line x1="493.5" y1="460" x2="493.5" y2="463" stroke="#000"/>
<line x1="522.5" y1="460" x2="522.5" y2="463" stroke="#000"/>
<line x1="550.5" y1="460" x2="550.5" y2="463" stroke="#000"/>
<line x1="578.5" y1="460" x2="578.5" y2="463" stroke="#000"/>
<line x1="607.5" y1="460" x2="607.5" y2="463" stroke="#000"/>
<line x1="635.5" y1="460" x2="635.5" y2="463" stroke="#000"/>
<line x1="663.5" y1="460" x2="663.5" y2="463" stroke="#000"/>
<line x1="692.5" y1="460" x2="692.5" y2="463" stroke="#000"/>
<line x1="720.5" y1="460" x2="720.5" y2="463" stroke="#000"/>
<line x1="720.5" y1="40" x2="720.5" y2="461" stroke="#008000"/>
<line x1="720" y1="460.5" x2="723" y2="460.5" stroke="#008000"/>
<line x1="720" y1="439.5" x2="723" y2="439.5" stroke="#008000"/>
<line x1="720" y1="418.5" x2="723" y2="418.5" stroke="#008000"/>
<line x1="720" y1="397.5" x2="723" y2="397.5" stroke="#008000"/>
<line x1="720" y1="376.5" x2="723" y2="376.5" stroke="#008000"/>
<line x1="720" y1="355.5" x2="723" y2="355.5" stroke="#008000"/>
<line x1="720" y1="334.5" x2="723" y2="334.5" stroke="#008000"/>
<line x1="720" y1="313.5" x2="723" y2="313.5" stroke="#008000"/>
<line x1="720" y1="292.5" x2="723" y2="292.5" stroke="#008000"/>
<line x1="720" y1="271.5" x2="723" y2="271.5" stroke="#008000"/>
<line x1="720" y1="250.5" x2="723" y2="250.5" stroke="#008000"/>
<line x1="720" y1="229.5" x2="723" y2="229.5" stroke="#008000"/>
<line x1="720" y1="208.5" x2="723" y2="208.5" stroke="#008000"/>
<line x1="720" y1="187.5" x2="723" y2="187.5" stroke="#008000"/>
<line x1="720" y1="166.5" x2="723" y2="166.5" stroke="#008000"/>
<line x1="720" y1="145.5" x2="723" y2="145.5" stroke="#008000"/>
<line x1="720" y1="124.5" x2="723" y2="124.5" stroke="#008000"/>
<line x1="720" y1="103.5" x2="723" y2="103.5" stroke="#008000"/>
<line x1="720" y1="82.5" x2="723" y2="82.5" stroke="#008000"/>
<line x1="720" y1="61.5" x2="723" y2="61.5" stroke="#008000"/>
<line x1="760.5" y1="40" x2="760.5" y2="460" stroke="#0000cc"/>
<line x1="760" y1="456.5" x2="763" y2="456.5" stroke="#0000cc"/>
<line x1="760" y1="422.5" x2="763" y2="422.5" stroke="#0000cc"/>
<line x1="760" y1="388.5" x2="763" y2="388.5" stroke="#0000cc"/>
<line x1="760" y1="355.5" x2="763" y2="355.5" stroke="#0000cc"/>
<line x1="760" y1="321.5" x2="763" y2="321.5" stroke="#0000cc"/>
<line x1="760" y1="288.5" x2="763" y2="288.5" stroke="#0000cc"/>
<line x1="760" y1="254.5" x2="763" y2="254.5" stroke="#0000cc"/>
<line x1="760" y1="220.5" x2="763" y2="220.5" stroke="#0000cc"/>
<line x1="760" y1="187.5" x2="763" y2="187.5" stroke="#0000cc"/>
<line x1="760" y1="153.5" x2="763" y2="153.5" stroke="#0000cc"/>
<line x1="760" y1="120.5" x2="763" y2="120.5" stroke="#0000cc"/>
<line x1="760" y1="87.5" x2="763" y2="87.5" stroke="#0000cc"/>
</svg>
<div class="t r" style="left:110px;top:24px">Temperatur [°C]</div>
<div class="t g" style="left:363.2px;top:24px">rel. Feuchte [%]</div>
<div class="t b" style="left:625px;top:24px;letter-spacing:-0.25px">Druck [hPa]</div>
<div class="t r yl" style="top:38px">°C</div>
<div class="t r yl" style="top:66px">7,60</div>
<div class="t r yl" style="top:89px">7,40</div>
<div class="t r yl" style="top:112px">7,20</div>
<div class="t r yl" style="top:135px">7,00</div>
<div class="t r yl" style="top:159px">6,80</div>
<div class="t r yl" style="top:182px">6,60</div>
<div class="t r yl" style="top:205px">6,40</div>
<div class="t r yl" style="top:228px">6,20</div>
<div class="t r yl" style="top:251px">6,00</div>
<div class="t r yl" style="top:275px">5,80</div>
<div class="t r yl" style="top:298px">5,60</div>
<div class="t r yl" style="top:321px">5,40</div>
<div class="t r yl" style="top:344px">5,20</div>
<div class="t r yl" style="top:368px">5,00</div>
<div class="t r yl" style="top:391px">4,80</div>
<div class="t r yl" style="top:414px">4,60</div>
<div class="t r yl" style="top:437px">4,40</div>
<div class="t g" style="left:725px;top:38px">%</div>
<div class="t g rl" style="left:725px;top:454px">0</div>
<div class="t g rl" style="left:725px;top:433px">5</div>
<div class="t g rl" style="left:725px;top:412px">10</div>
<div class="t g rl" style="left:725px;top:391px">15</div>
<div class="t g rl" style="left:725px;top:370px">20</div>
<div class="t g rl" style="left:725px;top:349px">25</div>
<div class="t g rl" style="left:725px;top:328px">30</div>
<div class="t g rl" style="left:725px;top:307px">35</div>
<div class="t g rl" style="left:725px;top:286px">40</div>
<div class="t g rl" style="left:725px;top:265px">45</div>
<div class="t g rl" style="left:725px;top:244px">50</div>
<div class="t g rl" style="left:725px;top:223px">55</div>
<div class="t g rl" style="left:725px;top:202px">60</div>
<div class="t g rl" style="left:725px;top:181px">65</div>
<div class="t g rl" style="left:725px;top:160px">70</div>
<div class="t g rl" style="left:725px;top:139px">75</div>
<div class="t g rl" style="left:725px;top:118px">80</div>
<div class="t g rl" style="left:725px;top:97px">85</div>
<div class="t g rl" style="left:725px;top:76px">90</div>
<div class="t g rl" style="left:725px;top:55px">95</div>
<div class="t b rl" style="left:765px;top:38px;letter-spacing:-0.7px">hPa</div>
<div class="t b rl" style="left:765px;top:450px">996,90</div>
<div class="t b rl" style="left:765px;top:416px">997,00</div>
<div class="t b rl" style="left:765px;top:382px">997,10</div>
<div class="t b rl" style="left:765px;top:349px">997,20</div>
<div class="t b rl" style="left:765px;top:315px">997,30</div>
<div class="t b rl" style="left:765px;top:282px">997,40</div>
<div class="t b rl" style="left:765px;top:248px">997,50</div>
<div class="t b rl" style="left:765px;top:214px">997,60</div>
<div class="t b rl" style="left:765px;top:181px">997,70</div>
<div class="t b rl" style="left:765px;top:147px">997,80</div>
<div class="t b rl" style="left:765px;top:114px">997,90</div>
<div class="t b rl" style="left:765px;top:81px">998,00</div>
<div class="t k xl" style="left:-1.8px;top:467px">00:00</div>
<div class="t k xl" style="left:-3px;top:482px">03.12.25</div>
<div class="t k xl" style="left:83.2px;top:467px">03:00</div>
<div class="t k xl" style="left:82px;top:482px">03.12.25</div>
<div class="t k xl" style="left:168.2px;top:467px">06:00</div>
<div class="t k xl" style="left:167px;top:482px">03.12.25</div>
<div class="t k xl" style="left:253.2px;top:467px">09:00</div>
<div class="t k xl" style="left:252px;top:482px">03.12.25</div>
<div class="t k xl" style="left:338.2px;top:467px">12:00</div>
<div class="t k xl" style="left:337px;top:482px">03.12.25</div>
<div class="t k xl" style="left:423.2px;top:467px">15:00</div>
<div class="t k xl" style="left:422px;top:482px">03.12.25</div>
<div class="t k xl" style="left:508.2px;top:467px">18:00</div>
<div class="t k xl" style="left:507px;top:482px">03.12.25</div>
<div class="t k xl" style="left:593.2px;top:467px">21:00</div>
<div class="t k xl" style="left:592px;top:482px">03.12.25</div>
<div class="t k xl" style="left:678.2px;top:467px">00:00</div>
<div class="t k xl" style="left:677px;top:482px">04.12.25</div>
</body></html>
